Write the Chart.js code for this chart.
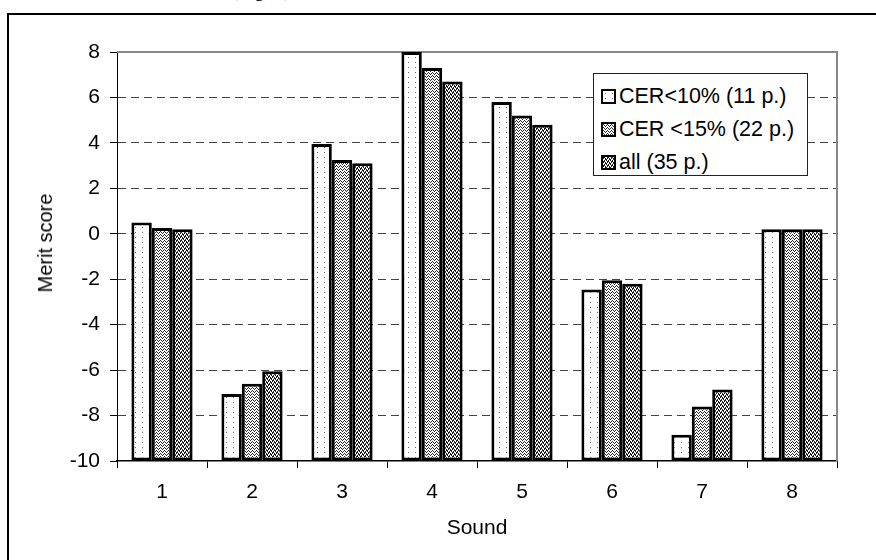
<!DOCTYPE html>
<html>
<head>
<meta charset="utf-8">
<script src="https://cdn.jsdelivr.net/npm/chart.js@4/dist/chart.umd.min.js"></script>
<style>
  html, body { margin: 0; padding: 0; background: #fff; }
  #wrap { position: relative; width: 876px; height: 560px; overflow: hidden; font-family: 'Liberation Sans', Arial, sans-serif; }
  #frame { position: absolute; left: 7px; top: 13px; width: 900px; height: 600px; border: 2px solid #000; box-sizing: border-box; }
  #caption { position: absolute; left: 231px; top: -21px; color: #000; font: 20px 'Liberation Serif', 'Times New Roman', serif; line-height: 20px; }
  #chart { position: absolute; left: 0; top: 0; }
  #ytitle { position: absolute; left: 45px; top: 243px; font-size: 20px; line-height: 24px; color: #000; white-space: nowrap;
    transform: translate(-50%, -50%) rotate(-90deg); }
  #legend { position: absolute; left: 593px; top: 73px; width: 215px; height: 103px; box-sizing: border-box;
    border: 1px solid #222; background: #fff; padding: 6px 0 0 7px; }
  .item { display: flex; align-items: center; height: 33px; font-size: 21.5px; color: #000; }
  .swatch { width: 15px; height: 15px; box-sizing: border-box; border: 2px solid #000; margin-right: 3px; }
</style>
</head>
<body>
<div id="wrap">
  <div id="caption">(Fig. 4)</div>
  <div id="frame"></div>
  <canvas id="chart" width="876" height="560"></canvas>
  <div id="ytitle">Merit score</div>
  <div id="legend"></div>
</div>
<script>
const sounds = ['1', '2', '3', '4', '5', '6', '7', '8'];
const seriesNames = ['CER<10% (11 p.)', 'CER <15% (22 p.)', 'all (35 p.)'];
const cer10 = [0.5, -7.05, 3.95, 8.0, 5.8, -2.45, -8.85, 0.2];
const cer15 = [0.25, -6.6, 3.25, 7.3, 5.2, -2.05, -7.6, 0.2];
const all35 = [0.2, -6.05, 3.1, 6.7, 4.8, -2.2, -6.85, 0.2];
const yTicks = [-10, -8, -6, -4, -2, 0, 2, 4, 6, 8];

// small bitmap tiles for the black & white fill patterns
const TILES = [
  { bg: '#fff', ink: '#666', rows: ['.......', '.......', '..#....', '.......', '.......'] },
  { bg: '#fff', ink: '#2a2a2a', rows: ['#...', '.#.#', '..#.'] },
  { bg: '#fff', ink: '#1a1a1a', rows: ['##..', '#.#.', '..##', '.#.#'] }
];

function makeTile(tile) {
  const c = document.createElement('canvas');
  c.width = tile.rows[0].length;
  c.height = tile.rows.length;
  const g = c.getContext('2d');
  g.fillStyle = tile.bg;
  g.fillRect(0, 0, c.width, c.height);
  g.fillStyle = tile.ink;
  tile.rows.forEach((row, y) => {
    [...row].forEach((ch, x) => { if (ch === '#') g.fillRect(x, y, 1, 1); });
  });
  return c;
}

const tileCanvases = TILES.map(makeTile);
const ctx = document.getElementById('chart').getContext('2d');
const patterns = tileCanvases.map((c) => ctx.createPattern(c, 'repeat'));

const legendEl = document.getElementById('legend');
seriesNames.forEach((name, i) => {
  const item = document.createElement('div');
  item.className = 'item';
  const sw = document.createElement('span');
  sw.className = 'swatch';
  sw.style.backgroundImage = `url(${tileCanvases[i].toDataURL()})`;
  item.appendChild(sw);
  item.appendChild(document.createTextNode(name));
  legendEl.appendChild(item);
});

const plotFrame = {
  id: 'plotFrame',
  beforeDatasetsDraw(chart) {
    const { ctx: c, chartArea: a } = chart;
    c.save();
    c.strokeStyle = '#888';
    c.lineWidth = 2;
    c.beginPath();
    c.moveTo(a.left, a.top);
    c.lineTo(a.right, a.top);
    c.lineTo(a.right, a.bottom);
    c.stroke();
    c.restore();
  }
};

const FONT = { family: "'Liberation Sans', Arial, sans-serif", size: 21 };
const datasetValues = [cer10, cer15, all35];

new Chart(ctx, {
  type: 'bar',
  data: {
    labels: sounds,
    datasets: datasetValues.map((vals, i) => ({
      label: seriesNames[i],
      data: vals,
      base: -10,
      backgroundColor: patterns[i],
      borderColor: '#000',
      borderWidth: 3,
      borderSkipped: false,
      categoryPercentage: 0.68,
      barPercentage: 1.0
    }))
  },
  options: {
    responsive: false,
    animation: false,
    devicePixelRatio: 1,
    layout: { padding: { top: 52, right: 39, left: 0, bottom: 0 } },
    plugins: { legend: { display: false }, tooltip: { enabled: false } },
    scales: {
      x: {
        afterFit(scale) { scale.height = 99; },
        ticks: { color: '#000', font: FONT, padding: 12 },
        grid: { drawOnChartArea: false, tickLength: 7, color: '#000', offset: true },
        border: { color: '#000', width: 1.5 },
        title: { display: true, text: 'Sound', color: '#000', font: FONT, padding: { top: 0, bottom: 19 } }
      },
      y: {
        min: -10,
        max: 8,
        afterFit(scale) { scale.width = 117; },
        afterBuildTicks(scale) { scale.ticks = yTicks.map((v) => ({ value: v })); },
        ticks: { color: '#000', font: FONT, padding: 10 },
        grid: {
          color: (c) => (c.tick && (c.tick.value === 8 || c.tick.value === -10) ? 'rgba(0,0,0,0)' : '#444'),
          tickColor: '#000',
          tickLength: 7,
          lineWidth: 1
        },
        border: { color: '#000', width: 1, dash: [8, 5] }
      }
    }
  },
  plugins: [plotFrame]
});
</script>
</body>
</html>
